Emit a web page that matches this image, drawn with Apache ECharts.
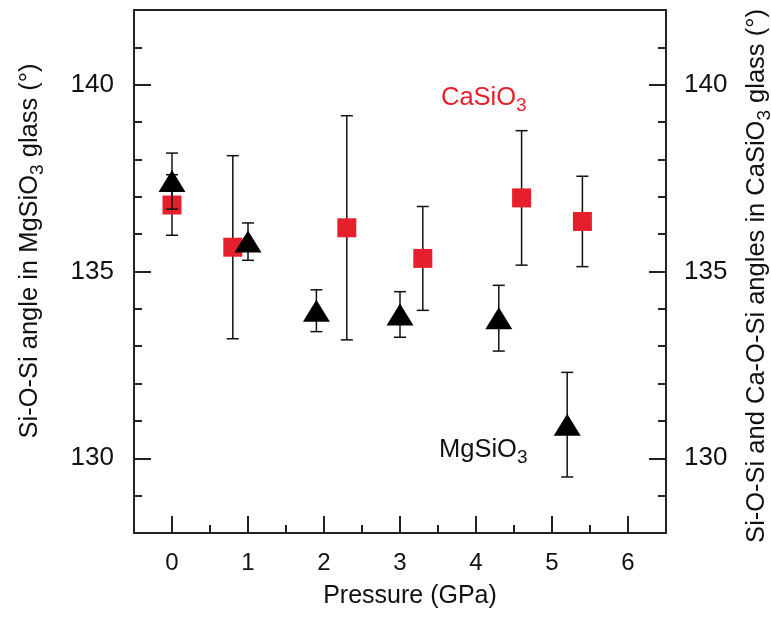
<!DOCTYPE html>
<html>
<head>
<meta charset="utf-8">
<script src="https://cdn.jsdelivr.net/npm/echarts@6/dist/echarts.min.js"></script>
<style>
  html, body { margin: 0; padding: 0; background: #fff; }
  #chart { width: 771px; height: 618px; }
</style>
</head>
<body>
<div id="chart"></div>
<script>
// Pressure (GPa), mean angle (°) and error half-width for each glass
const pressureCa = [0, 0.8, 2.3, 3.3, 4.6, 5.4];
const angleCa    = [136.78, 135.65, 136.17, 135.35, 136.97, 136.34];
const errCa      = [0.81, 2.45, 3.0, 1.39, 1.8, 1.21];

const pressureMg = [0, 1.0, 1.9, 3.0, 4.3, 5.2];
const angleMg    = [137.42, 135.8, 133.95, 133.85, 133.75, 130.9];
const errMg      = [0.75, 0.5, 0.56, 0.61, 0.88, 1.4];

// Labelled tick positions
const pressureTicks = [0, 1, 2, 3, 4, 5, 6];
const angleTicks = [130, 135, 140];

const FONT = '"Liberation Sans", Arial, Helvetica, sans-serif';
const RED = '#e61f2c';
const INK = '#222';

const caData = pressureCa.map((p, i) => [p, angleCa[i], errCa[i]]);
const mgData = pressureMg.map((p, i) => [p, angleMg[i], errMg[i]]);

// Vertical whisker with flat caps at value ± error
function errorBar(params, api) {
  const x = api.value(0), y = api.value(1), e = api.value(2);
  const hi = api.coord([x, y + e]);
  const lo = api.coord([x, y - e]);
  const hw = 6;
  const st = { stroke: '#111', lineWidth: 1.5 };
  return {
    type: 'group',
    children: [
      { type: 'line', shape: { x1: hi[0], y1: hi[1], x2: lo[0], y2: lo[1] }, style: st },
      { type: 'line', shape: { x1: hi[0] - hw, y1: hi[1], x2: hi[0] + hw, y2: hi[1] }, style: st },
      { type: 'line', shape: { x1: lo[0] - hw, y1: lo[1], x2: lo[0] + hw, y2: lo[1] }, style: st }
    ]
  };
}

const tickStyle = { color: INK, width: 2 };

// Each side gets a minor-tick axis and a major-tick axis with labels
function xAxisDef(major) {
  return {
    type: 'value', min: -0.5, max: 6.5, position: 'bottom',
    interval: major ? 1 : 0.5,
    axisLine: { show: false, onZero: false }, splitLine: { show: false },
    axisTick: major
      ? { inside: true, length: 17, lineStyle: tickStyle, customValues: pressureTicks }
      : { inside: true, length: 8, lineStyle: tickStyle },
    axisLabel: major
      ? { customValues: pressureTicks, margin: 18, fontSize: 24, color: '#111', fontFamily: FONT }
      : { show: false }
  };
}

function yAxisDef(side, major) {
  return {
    type: 'value', min: 128, max: 142, interval: 1, position: side,
    axisLine: { show: false, onZero: false }, splitLine: { show: false },
    axisTick: major
      ? { inside: true, length: 17, lineStyle: tickStyle, customValues: angleTicks }
      : { inside: true, length: 8, lineStyle: tickStyle },
    axisLabel: major
      ? { customValues: angleTicks, margin: side === 'left' ? 20 : 18, fontSize: 26,
          padding: [4, 0, 0, 0], color: '#111', fontFamily: FONT }
      : { show: false }
  };
}

const base = { fontFamily: FONT, fontSize: 25.5, lineHeight: 35, fill: '#111' };
const sub = { fontFamily: FONT, fontSize: 19, lineHeight: 19, verticalAlign: 'bottom', fill: '#111' };

const chart = echarts.init(document.getElementById('chart'), null, { renderer: 'canvas' });
chart.setOption({
  animation: false,
  backgroundColor: '#fff',
  grid: {
    left: 134, right: 105, top: 10, bottom: 85,
    show: true, borderColor: INK, borderWidth: 2, backgroundColor: 'transparent'
  },
  xAxis: [xAxisDef(false), xAxisDef(true)],
  yAxis: [yAxisDef('left', false), yAxisDef('left', true), yAxisDef('right', false), yAxisDef('right', true)],
  graphic: [
    {
      type: 'text', x: 30, y: 251, rotation: Math.PI / 2, silent: true,
      style: {
        text: '{a|Si-O-Si angle in MgSiO}{s|3}{a| glass (°)}',
        align: 'center', verticalAlign: 'middle',
        rich: { a: base, s: sub }
      }
    },
    {
      type: 'text', x: 757, y: 276, rotation: Math.PI / 2, silent: true,
      style: {
        text: '{a|Si-O-Si and Ca-O-Si angles in CaSiO}{s|3}{a| glass (°)}',
        align: 'center', verticalAlign: 'middle',
        rich: { a: base, s: sub }
      }
    },
    {
      type: 'text', x: 410, y: 596, silent: true,
      style: {
        text: 'Pressure (GPa)', align: 'center', verticalAlign: 'middle',
        fontFamily: FONT, fontSize: 25, fill: '#111'
      }
    },
    {
      type: 'text', x: 441, y: 97.5, silent: true,
      style: {
        text: '{a|CaSiO}{s|3}', align: 'left', verticalAlign: 'middle',
        rich: { a: Object.assign({}, base, { fill: RED }), s: Object.assign({}, sub, { fill: RED }) }
      }
    },
    {
      type: 'text', x: 439, y: 449.5, silent: true,
      style: {
        text: '{a|MgSiO}{s|3}', align: 'left', verticalAlign: 'middle',
        rich: { a: base, s: sub }
      }
    }
  ],
  series: [
    {
      name: 'CaSiO3 error', type: 'custom', xAxisIndex: 0, yAxisIndex: 0,
      renderItem: errorBar, data: caData, encode: { x: 0, y: 1 }, silent: true, z: 2
    },
    {
      name: 'CaSiO3', type: 'scatter', xAxisIndex: 0, yAxisIndex: 0,
      data: caData.map(d => [d[0], d[1]]), symbol: 'rect', symbolSize: 19,
      itemStyle: { color: RED, opacity: 1 }, silent: true, z: 3
    },
    {
      name: 'MgSiO3 error', type: 'custom', xAxisIndex: 0, yAxisIndex: 0,
      renderItem: errorBar, data: mgData, encode: { x: 0, y: 1 }, silent: true, z: 4
    },
    {
      name: 'MgSiO3', type: 'scatter', xAxisIndex: 0, yAxisIndex: 0,
      data: mgData.map(d => [d[0], d[1]]), symbol: 'triangle', symbolSize: [27, 22],
      itemStyle: { color: '#000', opacity: 1 }, silent: true, z: 5
    }
  ]
});
</script>
</body>
</html>
